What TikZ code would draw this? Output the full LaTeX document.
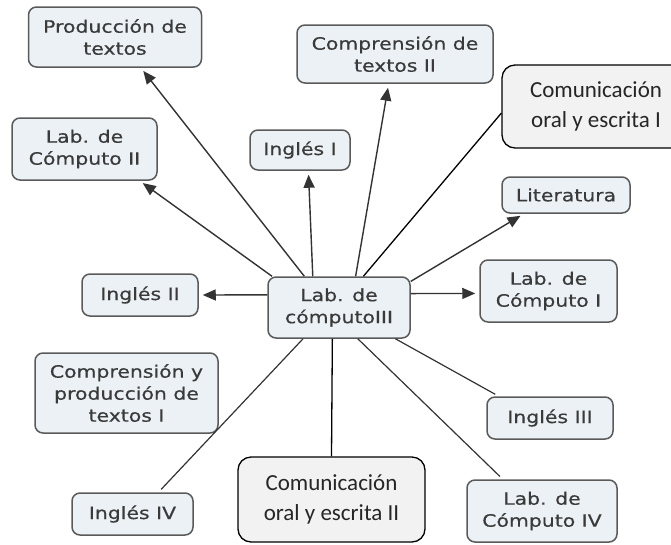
\documentclass[tikz,border=0pt]{standalone}
\usepackage{fontspec}
\usepackage{xcolor}
\usepackage{tikz}
\usetikzlibrary{arrows.meta}
\newfontfamily\mapfont[FakeStretch=1.2,FakeBold=0.5]{DejaVu Sans}
\newfontfamily\notefont{Carlito}
\definecolor{boxfill}{HTML}{EBF1F4}
\definecolor{boxline}{HTML}{5A5A5A}
\definecolor{boxtext}{HTML}{3A3A3A}
\definecolor{edge}{HTML}{333333}
\definecolor{notefill}{HTML}{F2F2F2}
\tikzset{
  concept/.style={draw=boxline, fill=boxfill, line width=1.5pt, rounded corners=8pt,
    text=boxtext, align=center, inner sep=0pt, font=\mapfont\fontsize{17}{22}\selectfont},
  note/.style={draw=black, fill=notefill, line width=1.3pt, rounded corners=13pt,
    text=black!85, align=center, inner sep=0pt, font=\notefont\fontsize{23}{30}\selectfont},
  arr/.style={draw=edge, line width=1.4pt, -{Triangle[length=13pt,width=11pt]}, shorten >=4pt},
  link/.style={draw=edge, line width=1.2pt, shorten >=4pt},
  plain/.style={draw=black, line width=1.3pt},
}

\begin{document}
\begin{tikzpicture}[x=1pt,y=-1pt]
  \useasboundingbox (0,0) rectangle (671,544);
  % centre
  \node[concept, minimum width=142pt, minimum height=61pt] (c) at (339,307.5) {Lab. de\\cómputoIII};
  % top half
  \node[concept, minimum width=173pt, minimum height=60pt] (prod) at (115,37) {Producción de\\textos};
  \node[concept, minimum width=196pt, minimum height=58pt] (comp2) at (395,54) {Comprensión de\\textos II};
  \node[note, minimum width=188pt, minimum height=83pt] (com1) at (596,106.5) {Comunicación\\oral y escrita I};
  \node[concept, minimum width=145pt, minimum height=62pt] (lab2) at (84.5,149) {Lab. de\\Cómputo II};
  \node[concept, minimum width=100pt, minimum height=40pt] (ing1) at (300,150) {Inglés I};
  \node[concept, minimum width=128pt, minimum height=36pt] (lit) at (566,195) {Literatura};
  \node[concept, minimum width=137pt, minimum height=62pt] (lab1) at (548.5,291) {Lab. de\\Cómputo I};
  \node[concept, minimum width=116pt, minimum height=42pt] (ing2) at (140,295) {Inglés II};
  % bottom half
  \node[concept, minimum width=183pt, minimum height=80pt] (comp1) at (126.5,393) {Comprensión y\\producción de\\textos I};
  \node[concept, minimum width=126pt, minimum height=42pt] (ing3) at (550,418) {Inglés III};
  \node[note, minimum width=187pt, minimum height=85pt] (com2) at (331.5,499.5) {Comunicación\\oral y escrita II};
  \node[concept, minimum width=121pt, minimum height=42pt] (ing4) at (132.5,514) {Inglés IV};
  \node[concept, minimum width=150pt, minimum height=62pt] (lab4) at (542,511) {Lab. de\\Cómputo IV};

  % arrows
  \draw[arr] (c.138) -- (prod.-50);
  \draw[arr] (c.155) -- (lab2.-30);
  \draw[arr] (c.130.5) -- (ing1.-68);
  \draw[arr] (c.62) -- (comp2.-102);
  \draw[arr] (c.20) -- (lit.-156);
  \draw[arr] (c.11.5) -- (lab1.-178);
  \draw[arr] (c.170) -- (ing2.east);
  % plain links
  \draw[link] (c.-29.5) -- (ing3.157);
  \draw[link] (c.-59.5) -- (lab4.141);
  \draw[link] (c.-139.7) -- (ing4.40);
  \draw[plain] (c.52) -- (com1.-176);
  \draw[plain] (c.-102.9) -- (com2.north);
\end{tikzpicture}
\end{document}
